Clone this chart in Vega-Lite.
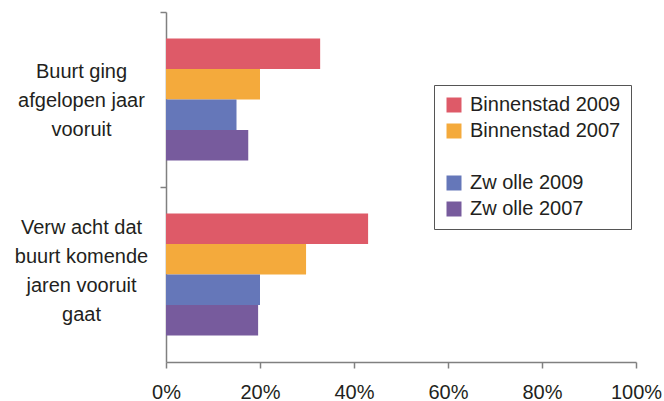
{
  "$schema": "https://vega.github.io/schema/vega-lite/v6.json",
  "autosize": {"type": "none"},
  "padding": {"left": 166, "top": 12, "right": 28, "bottom": 39},
  "width": 470,
  "height": 350,
  "background": "white",
  "config": {
    "view": {"stroke": null},
    "font": "Liberation Sans",
    "axis": {"labelFont": "Liberation Sans", "labelColor": "#231F20", "labelFontSize": 20, "domainColor": "#808080", "tickColor": "#808080", "domainWidth": 1.5, "tickWidth": 1.5}
  },
  "data": {
    "values": [
      {"vraag": "Buurt ging|afgelopen jaar|vooruit", "serie": "Binnenstad 2009", "waarde": 0.328},
      {"vraag": "Buurt ging|afgelopen jaar|vooruit", "serie": "Binnenstad 2007", "waarde": 0.20},
      {"vraag": "Buurt ging|afgelopen jaar|vooruit", "serie": "Zw olle 2009", "waarde": 0.15},
      {"vraag": "Buurt ging|afgelopen jaar|vooruit", "serie": "Zw olle 2007", "waarde": 0.175},
      {"vraag": "Verw acht dat|buurt komende|jaren vooruit|gaat", "serie": "Binnenstad 2009", "waarde": 0.43},
      {"vraag": "Verw acht dat|buurt komende|jaren vooruit|gaat", "serie": "Binnenstad 2007", "waarde": 0.298},
      {"vraag": "Verw acht dat|buurt komende|jaren vooruit|gaat", "serie": "Zw olle 2009", "waarde": 0.20},
      {"vraag": "Verw acht dat|buurt komende|jaren vooruit|gaat", "serie": "Zw olle 2007", "waarde": 0.196}
    ]
  },
  "layer": [
    {
      "mark": {"type": "bar"},
      "encoding": {
        "y": {
          "field": "vraag",
          "type": "nominal",
          "sort": null,
          "scale": {"paddingInner": 0, "paddingOuter": 0},
          "axis": {
            "title": null,
            "orient": "left",
            "ticks": false,
            "labelExpr": "split(datum.value, '|')",
            "labelAlign": "center",
            "labelBaseline": "middle",
            "labelPadding": 85,
            "labelLineHeight": 29,
            "labelOffset": {"condition": {"test": "indexof(datum.value, 'Verw') >= 0", "value": -47}, "value": -28}
          }
        },
        "yOffset": {
          "field": "serie",
          "type": "nominal",
          "scale": {"domain": ["Binnenstad 2009", "Binnenstad 2007", "Zw olle 2009", "Zw olle 2007"], "paddingInner": 0, "paddingOuter": 0.87}
        },
        "x": {
          "field": "waarde",
          "type": "quantitative",
          "scale": {"domain": [0, 1]},
          "axis": {
            "title": null,
            "format": ".0%",
            "values": [0, 0.2, 0.4, 0.6, 0.8, 1],
            "grid": false,
            "tickSize": 6,
            "labelPadding": 14,
            "labelFlush": false
          }
        },
        "color": {
          "field": "serie",
          "type": "nominal",
          "scale": {
            "domain": ["Binnenstad 2009", "Binnenstad 2007", " ", "Zw olle 2009", "Zw olle 2007"],
            "range": ["#DE5A68", "#F4AA3C", "transparent", "#6577B9", "#775B9D"]
          },
          "legend": {
            "title": null,
            "orient": "none",
            "legendX": 268,
            "legendY": 73,
            "symbolType": "square",
            "symbolSize": 225,
            "symbolStrokeWidth": 0,
            "labelFontSize": 20,
            "labelFont": "Liberation Sans",
            "labelColor": "#231F20",
            "labelOffset": 6,
            "rowPadding": 6,
            "padding": 10,
            "strokeColor": "#555555",
            "labelLimit": 300
          }
        }
      }
    },
    {
      "mark": {"type": "bar", "opacity": 0},
      "encoding": {
        "y": {
          "field": "vraag",
          "type": "nominal",
          "sort": null,
          "axis": {
            "title": null,
            "orient": "left",
            "labels": false,
            "domain": false,
            "bandPosition": 0,
            "tickSize": 6
          }
        },
        "x": {"field": "waarde", "type": "quantitative"}
      }
    }
  ],
  "resolve": {"axis": {"y": "independent"}}
}
